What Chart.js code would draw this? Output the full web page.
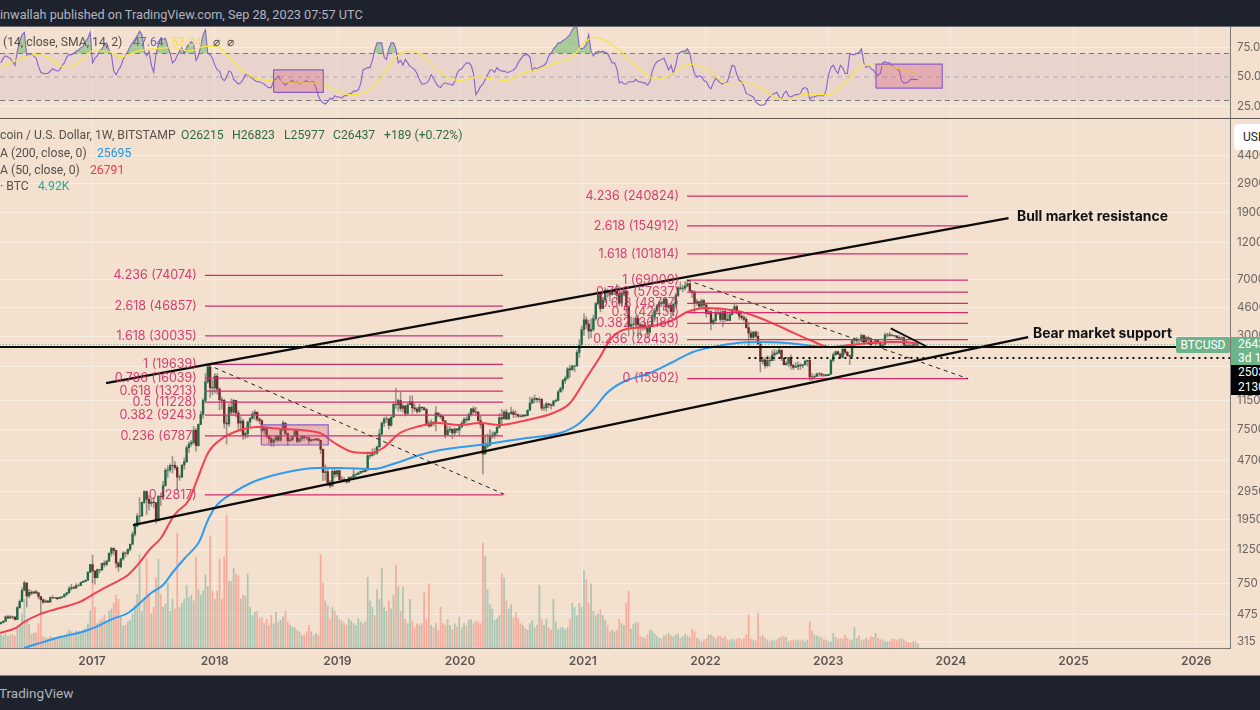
<!DOCTYPE html>
<html><head><meta charset="utf-8">
<script src="https://cdn.jsdelivr.net/npm/chart.js@4"></script>
<style>
html,body{margin:0;padding:0;background:#1e222d;width:1260px;height:710px;overflow:hidden;font-family:Roboto,Inter,sans-serif}
#wrap{position:absolute;left:0;top:27px;width:1260px;height:648px;background:#f3e0cf}
#c{position:absolute;left:0;top:0}
.t{position:absolute;white-space:pre;font-size:12.2px;line-height:16px;color:#55504c}
.hd{color:#b2b5be;font-size:12.7px}
.tag{position:absolute;color:#fff;font-size:12px;white-space:pre;overflow:hidden}
</style></head><body>
<div id="wrap"><canvas id="c" width="1260" height="648" style="width:1260px;height:648px"></canvas></div>
<div style="position:absolute;left:0;top:26px;width:1260px;height:1px;background:#6b6b70"></div>
<div style="position:absolute;left:0;top:675px;width:1260px;height:1px;background:#8a8580"></div>
<div class="t hd" style="left:0;top:7px">inwallah published on TradingView.com, Sep 28, 2023 07:57 UTC</div>
<div class="t hd" style="left:-1px;top:685px;font-size:13.5px">TradingView</div>
<div class="t" style="left:3px;top:34px">(14, close, SMA, 14, 2)</div>
<div class="t" style="left:133px;top:34px;color:#7e57c2">47.64</div>
<div class="t" style="left:171px;top:34px;color:#f5e042">53.04</div>
<div class="t" style="left:213px;top:34px">⌀</div>
<div class="t" style="left:227px;top:34px">⌀</div>
<div class="t" style="left:0;top:127px">coin / U.S. Dollar, 1W, BITSTAMP</div>
<div class="t" style="left:181px;top:127px;color:#2f6b49">O26215</div>
<div class="t" style="left:232px;top:127px;color:#2f6b49">H26823</div>
<div class="t" style="left:284px;top:127px;color:#2f6b49">L25977</div>
<div class="t" style="left:333px;top:127px;color:#2f6b49">C26437</div>
<div class="t" style="left:384px;top:127px;color:#2f6b49">+189 (+0.72%)</div>
<div class="t" style="left:0;top:145px">A (200, close, 0)</div>
<div class="t" style="left:97px;top:145px;color:#2196f3">25695</div>
<div class="t" style="left:0;top:162px">A (50, close, 0)</div>
<div class="t" style="left:90px;top:162px;color:#f23645">26791</div>
<div class="t" style="left:0;top:178px">· BTC</div>
<div class="t" style="left:38px;top:178px;color:#26a69a">4.92K</div>
<div class="tag" style="left:1234px;top:124px;width:40px;height:26px;background:#fff;border-radius:4px;color:#222;line-height:26px;padding-left:9px;box-sizing:border-box">USD</div>
<div class="tag" style="left:1176px;top:337px;width:54px;height:16px;background:#6db48c;border-radius:2px;line-height:16px;text-align:center">BTCUSD</div>
<div class="tag" style="left:1231px;top:337px;width:29px;height:28px;background:#6db48c;line-height:14px;padding-left:7px;box-sizing:border-box">26437
3d 1h</div>
<div class="tag" style="left:1231px;top:365px;width:29px;height:30px;background:#000;line-height:14.5px;padding-left:7px;box-sizing:border-box">25030
21300</div>
<script>
const FIRST_WEEK=2016.257, WEEK=7/365.25;
const yearTicks=[2017,2018,2019,2020,2021,2022,2023,2024,2025,2026];
const priceTicks=[440000,290000,190000,120000,70000,46000,30000,19000,11500,7500,4700,2950,1950,1250,750,475,315];
const rsiTicks=[75,50,25];

const closes2016=[420,428,458,450,458,457,440,525,575,680,760,625,660,650,665,655,620,590,570,580,570,610,607,610,600,612,617,640,655,698,710,703,730,730,765,775,790,890,998];
const highs2016=[425,432,465,470,468,464,458,535,590,705,780,700,690,680,670,680,660,620,600,590,585,615,630,612,612,618,622,645,660,720,745,720,752,745,772,785,795,900,1000];
const lows2016=[415,418,426,445,447,445,435,440,520,575,675,530,610,635,650,645,600,480,560,565,565,570,600,600,590,600,605,615,630,650,680,695,700,720,730,762,770,788,885];
const vol2016=[16,15,17,14,16,17,15,27,28,42,60,34,29,17,18,19,30,40,14,13,12,14,13,12,11,14,13,15,18,22,20,17,21,20,17,22,24,30,46];

const closes2017=[905,820,925,920,1015,1000,1050,1180,1270,1230,1020,965,1085,1185,1180,1250,1350,1570,1770,2050,2060,2520,2960,2640,2480,2530,2510,1920,2750,2730,3230,4060,4080,4350,4380,4230,3670,3680,4390,4610,5690,6010,6150,7380,5870,8040,9330,11500,15200,18950,13900,13850];
const highs2017=[1150,915,935,930,1025,1055,1060,1190,1290,1280,1240,1040,1100,1210,1205,1260,1355,1625,1850,2130,2700,2530,3000,2980,2790,2620,2700,2400,2800,2900,3450,4180,4350,4480,4980,4620,4350,3800,4400,4900,5850,6200,6350,7800,7600,8100,9780,11800,17200,19639,16800,15500];
const lows2017=[760,745,815,880,910,960,980,1040,1130,1150,950,900,950,1060,1120,1150,1220,1340,1520,1750,1850,2040,2480,2100,2250,2380,2330,1850,1900,2400,2650,3200,3650,3950,3900,4100,3000,3500,3620,4120,4550,5300,5800,6000,5400,5800,8000,8800,11100,14800,12000,12500];
const vol2017=[84,50,30,34,36,41,32,45,48,55,65,60,38,27,28,32,34,42,52,66,115,45,62,110,64,42,50,86,109,66,50,54,80,45,60,48,141,50,55,60,77,62,65,58,112,72,65,70,90,75,138,70];

const closes2018=[16500,13600,11600,11500,8200,8100,10400,9650,11500,9550,8200,8450,6830,7030,8350,8800,9410,9650,8700,8520,7350,7700,6770,6500,6150,6380,6750,6360,7400,8220,7030,6300,6390,6710,7300,6250,6500,6700,6620,6590,6300,6410,6380,6480,6350,5550,3930,3980,3370,3220,4000,3830];
const highs2018=[17150,17150,13900,12100,11700,9100,10950,11750,11700,11500,9900,9000,8700,7200,8400,8950,9750,9990,9650,8880,8600,7800,7750,6850,6700,6550,6800,6800,7500,8480,8250,7100,6600,6750,7400,7350,6600,6800,6800,6650,6640,6500,6500,6540,6480,6350,5600,4400,4250,3500,4150,4150];
const lows2018=[12800,12600,10000,10100,7600,6000,7800,9300,9300,8950,7300,7250,6430,6500,6600,7800,8700,8600,8400,8100,7200,7000,6600,6000,5800,5800,6250,6200,6250,7300,6900,5880,6250,6300,6700,6100,6150,6300,6350,6400,6000,6250,6300,6350,6300,5200,3480,3500,3230,3120,3200,3650];
const vol2018=[60,70,109,60,112,163,82,82,98,91,89,60,65,64,91,50,40,44,45,36,38,30,35,28,40,30,44,32,34,38,45,32,28,26,25,22,20,15,16,20,28,20,15,18,16,115,80,58,52,35,50,45];

const closes2019=[4040,3540,3540,3530,3410,3650,3670,3800,3810,3900,4000,3980,4100,5040,5070,5300,5250,5750,6980,8200,8730,8730,7930,8960,10850,10800,11470,10200,10600,9470,10800,11280,10300,10130,9760,10400,10300,10030,8050,7870,8280,8220,9550,9200,9030,8500,6900,7390,7500,7090,7510,7390];
const highs2019=[4080,4080,3700,3650,3550,3680,3700,4190,3880,3950,4020,4080,4150,5350,5350,5600,5650,5830,7500,8350,8900,9050,8800,9000,11200,13800,11700,13100,10900,10650,11000,12300,12300,10900,10380,10900,10400,10400,10200,8500,8600,8400,10500,9500,9400,9100,8100,7850,7800,7500,7650,7550];
const lows2019=[3700,3500,3480,3440,3350,3390,3580,3660,3670,3830,3880,3900,3960,4030,4840,5000,5100,5150,5740,6900,7800,8300,7500,7850,8950,10200,9800,9800,9650,9100,9350,10900,9500,9800,9470,9600,9950,9900,7900,7700,7780,7900,7300,9000,8750,8350,6550,7200,7150,6500,6900,7100];
const vol2019=[40,35,33,30,28,36,33,30,28,36,32,30,32,87,58,50,40,72,60,98,50,45,58,48,65,102,75,45,75,35,30,60,33,25,30,28,30,68,35,79,28,25,30,22,50,30,28,35,28,22,30,26];

const closes2020=[7760,8190,8700,8600,9340,10150,9700,9660,8520,8040,5170,5810,5880,6770,6860,7120,7700,8890,8730,9670,8720,9450,9670,9330,9300,9120,9070,9240,9170,9930,11050,11680,11850,11650,11700,10250,10320,10930,10780,10680,11380,11500,13030,13750,15480,15970,18400,18170,19150,19270,23500,26250];
const highs2020=[7800,8470,8900,8980,9570,10200,10500,10370,9750,9180,8170,6900,6980,7450,7200,7220,7780,9450,10050,9900,10080,9580,10400,10000,9800,9400,9300,9350,9300,10000,12100,12050,12470,11900,12000,11800,10800,11180,10980,10950,11500,11720,13350,14000,15800,16500,18800,19500,19450,19400,24300,28400];
const lows2020=[6850,7650,8100,8300,8500,9100,9470,9300,8450,7600,3850,5300,5670,5900,6500,6550,6800,7600,8100,8900,8650,8650,9350,8900,8950,8900,8950,9000,9000,9120,10500,10950,11120,11150,11100,9900,9900,9800,10300,10100,10500,11200,11400,13100,13250,14800,15800,16200,18000,17600,19000,21800];
const vol2020=[38,25,30,27,34,35,30,33,32,30,129,113,72,53,48,34,36,40,91,86,58,48,53,37,44,36,30,28,24,22,30,34,25,28,77,35,28,35,25,22,60,32,22,25,25,22,25,35,55,50,40,55];

const closes2021=[33000,38200,35800,32300,33100,38900,48700,57400,45200,51200,59100,57400,55800,58200,59800,56200,49000,56600,58200,46400,34700,35600,35800,39000,35600,34500,35300,34200,31800,35400,39900,43800,47000,49300,48800,51800,46000,47200,43200,48200,54900,61500,60900,61300,63300,65500,58700,57300,49400,50100,46700,50800];
const highs2021=[34800,41900,40000,38000,38700,40900,49700,58300,57500,52600,61700,60500,58300,59800,61200,64800,57500,58400,59500,59500,45800,39900,39400,40100,41200,36600,36000,36900,34700,35400,42600,45300,48100,50500,50500,52900,52900,48800,48400,49200,56500,62900,67000,63700,67600,69000,66300,59000,59100,51900,49500,52100];
const lows2021=[27700,30300,33400,28800,29300,32300,38000,47500,43000,44900,49300,53500,50400,55000,55500,50900,47000,47500,54500,42000,30000,33400,31000,34700,28800,30200,32600,33000,29300,31000,37300,37300,42800,45900,46400,47000,42900,44800,39600,40700,47100,53900,59500,58000,59400,62300,57800,53300,42000,47300,45500,45600];
const vol2021=[50,95,84,55,79,45,40,42,47,40,34,28,20,22,20,22,35,30,28,55,70,23,29,31,31,14,13,12,16,22,21,17,14,12,11,15,16,18,15,14,16,17,12,14,17,15,13,23,20,12,10,8];

const closes2022=[47700,41900,43100,36300,37900,42400,42100,38400,43200,38400,37800,41300,44500,46400,42200,40400,39450,38500,34000,31300,29450,31800,29900,26600,20550,21000,19300,20850,20800,22600,23300,23200,24300,21500,19550,20000,21800,19400,18800,19050,19440,19260,19570,20630,20900,16300,16280,16450,17100,17100,16750,16840];
const highs2022=[51900,47900,44500,43500,38900,45500,45800,44800,44200,45400,42400,42400,45000,48200,47500,42900,42900,40800,39900,36700,32400,32200,32400,31900,27100,21900,21800,22400,22000,24200,24600,24200,25200,24400,21800,20600,21900,22700,19700,20200,20400,19900,19700,21000,21000,21500,17200,16800,17300,17400,17300,17000];
const lows2022=[45700,39700,41300,32900,35600,36800,41400,37200,34400,37200,37600,37700,41000,44200,41900,38500,38200,37500,33700,25400,28800,28600,29300,26800,17600,19800,18600,18900,19100,20700,20800,22700,23500,20800,19500,19500,19000,18300,18200,18900,18200,18200,18700,19500,19200,15500,15500,15800,16700,16500,16350,16400];
const vol2022=[10,12,16,16,14,11,15,14,12,14,10,9,11,10,11,12,10,12,16,41,11,10,9,43,14,15,12,10,8,10,9,10,12,14,14,13,8,9,10,9,10,9,10,8,10,32,21,16,15,13,13,10];

const closes2023=[16620,16950,20870,22700,23750,22930,21860,24640,23560,22430,22140,27970,27980,28460,28320,30300,27590,29230,28900,26920,26850,28070,27120,25840,26340,30460,30620,30290,30250,30080,29280,29040,29280,26190,26010,25970,25830,26530,26250,26437];
const highs2023=[16800,17100,21300,23300,24000,23950,23300,25250,25100,23900,22600,28450,29200,29400,28800,31000,30500,30000,29800,29100,27700,28400,28450,27400,26800,31400,31300,31800,31000,30300,30000,30200,29700,29700,28150,26900,26850,27400,27200,26823];
const lows2023=[16500,16650,17300,20400,22500,22700,21450,21550,22900,22200,19600,21900,26600,26900,27200,28200,27150,27000,27350,25800,26350,26000,26500,25400,24800,26200,29500,29700,29900,29600,29000,28600,29000,25200,25350,25350,25350,25600,26000,25977];
const vol2023=[10,8,8,18,13,11,12,11,16,12,10,10,25,12,15,10,10,12,10,14,13,18,12,10,10,8,8,8,11,11,9,11,11,10,8,7,6,8,8,4.92];

const rsiValues=[
62,66,68,67,66,63,60,72,80,86,88,68,69,69,68,66,59,54,53,53,53,55,57,56,55,56,60,62,67,69,69,70,72,73,75,76,80,83,88,
62,66,68,72,74,77,79,73,69,55,52,56,59,65,68,72,76,79,82,85,89,86,72,68,72,60,54,70,78,82,82,83,76,70,62,64,68,72,75,70,75,78,80,78,64,68,76,86,90,70,69,66,
60,56,55,49,47,50,55,54,48,46,44,45,48,52,52,50,49,47,46,46,45,44,42,41,41,47,48,51,47,45,43,45,46,47,45,46,44,45,46,47,45,46,46,41,34,30,28,27,29,32,31,34,
33,33,32,34,34,36,36,38,38,39,44,56,57,58,58,64,73,79,79,79,67,65,74,79,79,74,62,64,60,65,62,59,58,56,53,48,44,44,45,47,52,49,45,42,41,44,45,44,44,43,46,53,
56,57,60,62,62,60,53,35,38,42,44,48,52,56,56,54,58,56,55,55,54,54,55,56,58,62,65,68,69,69,67,55,58,57,58,59,60,62,68,70,74,76,79,79,81,82,84,86,90,93,92,75,
74,75,78,86,72,68,71,72,71,72,71,70,66,62,62,57,45,46,44,44,46,46,46,48,46,46,45,45,43,46,55,60,63,64,65,66,61,56,60,53,60,70,71,72,72,74,70,60,53,50,51,50,
47,46,42,40,45,49,47,45,44,45,46,53,60,59,52,47,46,42,36,35,34,33,29,27,26,26,27,31,33,35,36,37,33,31,36,38,34,33,34,35,35,36,40,41,40,31,33,33,34,34,34,34,
39,52,58,60,56,53,60,58,53,53,70,69,69,70,71,74,62,58,60,57,56,53,51,53,62,63,62,62,59,58,57,56,47,45,45,46,48,48,48,47.64];
const rsiSmaWeeks=[0,5,10,15,21,26,29,34,39,45,51,58,65,74,80,87,92,96,101,106,111,120,126,135,142,149,154,159,164,169,174,180,185,190,195,203,215,222,229,236,243,248,252,258,263,268,273,278,285,293,300,309,316,323,329,335,341,352,360,367,374,382,390];
const rsiSma=[58,63,67,69,66,59,58,64,72,72,67,72,74,75,72,76,76,69,59,51,48,46,45,45,39,35,36,43,56,69,72,67,57,50,47,50,47,53,57,62,67,79,84,80,73,63,55,48,52,61,57,44,45,41,33,31,35,35,47,60,60,57,53.04];

const ma50Years=[2016.25,2016.38,2016.446,2016.576,2016.74,2016.9,2017,2017.098,2017.196,2017.293,2017.391,2017.465,2017.562,2017.66,2017.693,2017.79,2017.856,2017.945,2018.043,2018.206,2018.345,2018.557,2018.858,2018.964,2019.127,2019.266,2019.372,2019.51,2019.673,2019.812,2020,2020.162,2020.325,2020.545,2020.757,2020.896,2021.034,2021.14,2021.222,2021.328,2021.523,2021.735,2021.85,2022.012,2022.257,2022.444,2022.632,2022.852,2023.015,2023.178,2023.504,2023.626,2023.732];
const ma50=[360,388,424,477,522,572,634,703,769,853,1035,1238,1481,2026,2182,2609,3515,5254,6376,7396,7739,7510,7079,6190,5333,5254,5660,7079,7857,8216,7970,8216,7970,8592,9530,11070,16300,21950,28280,32810,34310,38090,42900,45500,43550,39250,33830,28280,25480,26240,27450,27450,26791];
const ma200Years=[2016.446,2016.576,2016.74,2016.918,2017.033,2017.163,2017.293,2017.391,2017.481,2017.579,2017.66,2017.758,2017.856,2017.88,2017.945,2018.019,2018.149,2018.312,2018.557,2018.834,2019.02,2019.29,2019.453,2019.673,2019.836,2020.219,2020.545,2020.814,2020.953,2021.083,2021.197,2021.328,2021.548,2021.735,2021.898,2022.06,2022.257,2022.444,2022.664,2023.015,2023.34,2023.732];
const ma200=[288,310,339,365,394,443,485,563,653,736,893,1100,1335,1438,1937,2423,2896,3412,3900,4202,4202,4140,4460,5100,5495,6007,6568,7078,7970,9970,12850,15130,17300,20380,23650,25480,27040,27450,27040,25480,25480,25695];

const fibLevelsA=["0 (2817)","0.236 (6787)","0.382 (9243)","0.5 (11228)","0.618 (13213)","0.786 (16039)","1 (19639)","1.618 (30035)","2.618 (46857)","4.236 (74074)"];
const fibPricesA=[2817,6787,9243,11228,13213,16039,19639,30035,46857,74074];
const fibLevelsB=["0 (15902)","0.236 (28433)","0.382 (36186)","0.5 (42451)","0.618 (48717)","0.786 (57637)","1 (69000)","1.618 (101814)","2.618 (154912)","4.236 (240824)"];
const fibPricesB=[15902,28433,36186,42451,48717,57637,69000,101814,154912,240824];
const fibSpanA=[2017.92,2020.35];
const fibSpanB=[2021.85,2024.14];
const bullLine=[[2017.114,14900],[2024.47,174000]];
const bearLine=[[2017.334,1798],[2024.63,29570]];
const levelLine=[[2016.25,25480],[2025.84,25480]];
const dottedLevel=[[2022.35,21630],[2026.275,21630]];
const lastPriceLine=[[2016.25,26437],[2026.275,26437]];
const fallA=[[2017.94,19639],[2020.37,2817]];
const fallB=[[2021.85,69000],[2024.14,15902]];
const wedgeLine=[[2023.51,33600],[2023.81,25480]];
const priceBox=[2018.38,2018.925,5920,7990];
const rsiBoxA=[2018.48,2018.885,37,56];
const rsiBoxB=[2023.39,2023.93,40.6,61];
const notes=[["Bull market resistance",2024.539,176500],["Bear market support",2024.669,30930]];

const closes=[...closes2016,...closes2017,...closes2018,...closes2019,...closes2020,...closes2021,...closes2022,...closes2023];
const highs=[...highs2016,...highs2017,...highs2018,...highs2019,...highs2020,...highs2021,...highs2022,...highs2023];
const lows=[...lows2016,...lows2017,...lows2018,...lows2019,...lows2020,...lows2021,...lows2022,...lows2023];
const volumes=[...vol2016,...vol2017,...vol2018,...vol2019,...vol2020,...vol2021,...vol2022,...vol2023];

const X0=2016.25,X1=2026.275;
const wk=i=>FIRST_WEEK+i*WEEK;
const opens=closes.map((c,i)=>i?closes[i-1]:412);
const up=closes.map((c,i)=>c>=opens[i]);
const seg=(pts,color,width,dash,order,axis)=>({type:'line',data:pts.map(p=>({x:p[0],y:p[1]})),borderColor:color,borderWidth:width,borderDash:dash||[],pointRadius:0,order:order,yAxisID:axis||'y',fill:false,tension:0});
const boxSets=(b,axis)=>[
 {type:'line',data:[{x:b[0],y:b[3]},{x:b[1],y:b[3]}],borderWidth:0,pointRadius:0,yAxisID:axis,order:3,fill:{target:{value:b[2]},above:'rgba(214,72,110,0.28)',below:'rgba(214,72,110,0.28)'}},
 seg([[b[0],b[2]],[b[1],b[2]],[b[1],b[3]],[b[0],b[3]],[b[0],b[2]]],'#8a5cc8',1.2,[],2,axis)
];
const fibSets=(prices,span)=>prices.map(p=>seg([[span[0],p],[span[1],p]],'#d62c6c',1.25,[],4));
const datasets=[
 {type:'line',data:[{x:X0,y:70},{x:X1,y:70}],borderWidth:0,pointRadius:0,yAxisID:'rsi',order:20,fill:{target:{value:30},above:'rgba(126,87,194,0.09)',below:'rgba(126,87,194,0.09)'}},
 seg([[X0,70],[X1,70]],'#77777f',1,[5,4],19,'rsi'),
 seg([[X0,50],[X1,50]],'#a9a5ab',1,[5,4],19,'rsi'),
 seg([[X0,30],[X1,30]],'#77777f',1,[5,4],19,'rsi'),
 ...boxSets(rsiBoxA,'rsi'),...boxSets(rsiBoxB,'rsi'),
 {type:'line',data:rsiValues.map((v,i)=>({x:wk(i),y:v})),borderColor:'#8763cc',borderWidth:1.1,pointRadius:0,yAxisID:'rsi',order:6,fill:{target:{value:70},above:'rgba(76,175,80,0.45)',below:'rgba(0,0,0,0)'}},
 {type:'line',data:rsiSma.map((v,i)=>({x:wk(rsiSmaWeeks[i]),y:v})),borderColor:'#f7e449',borderWidth:1.3,pointRadius:0,yAxisID:'rsi',order:5,cubicInterpolationMode:'monotone'},
 {type:'bar',label:'Volume',data:volumes.map((v,i)=>({x:wk(i),y:v})),yAxisID:'vol',barThickness:1.05,grouped:false,backgroundColor:up.map(u=>u?'rgba(70,160,135,0.42)':'rgba(255,95,85,0.42)'),order:30},
 {type:'bar',label:'Wick',data:closes.map((c,i)=>({x:wk(i),y:[lows[i],highs[i]]})),yAxisID:'y',barThickness:0.9,grouped:false,backgroundColor:'rgba(95,90,88,0.6)',order:12},
 {type:'bar',label:'Body',data:closes.map((c,i)=>({x:wk(i),y:[Math.min(c,opens[i]),Math.max(c,opens[i])]})),yAxisID:'y',barThickness:1.7,grouped:false,backgroundColor:up.map(u=>u?'#1f6a45':'#6e2a28'),order:11},
 ...boxSets(priceBox,'y'),
 {type:'line',label:'MA 50',data:ma50.map((v,i)=>({x:ma50Years[i],y:v})),borderColor:'#f5404f',borderWidth:2,pointRadius:0,yAxisID:'y',order:8,cubicInterpolationMode:'monotone'},
 {type:'line',label:'MA 200',data:ma200.map((v,i)=>({x:ma200Years[i],y:v})),borderColor:'#2f9bf0',borderWidth:2,pointRadius:0,yAxisID:'y',order:7,cubicInterpolationMode:'monotone'},
 ...fibSets(fibPricesA,fibSpanA),...fibSets(fibPricesB,fibSpanB),
 seg(lastPriceLine,'rgba(90,170,125,0.8)',1,[1,2],9),
 seg(bullLine,'#0b0b0b',2.3,[],1),
 seg(bearLine,'#0b0b0b',2.3,[],1),
 seg(levelLine,'#0b0b0b',2,[],1),
 seg(dottedLevel,'#0b0b0b',2,[2,4],1),
 seg(fallA,'#222',1,[4,4],2),
 seg(fallB,'#222',1,[4,4],2),
 seg(wedgeLine,'#0b0b0b',1.8,[],1)
];
const labelPlugin={id:'labels',
 beforeDatasetsDraw(ch){const c=ch.ctx,r=ch.scales.rsi;c.save();c.strokeStyle='#5d5a58';c.lineWidth=1;c.beginPath();c.moveTo(0,r.bottom-.5);c.lineTo(ch.width,r.bottom-.5);c.stroke();c.restore();},
 afterDatasetsDraw(ch){
  const c=ch.ctx,x=ch.scales.x,y=ch.scales.y;c.save();
  c.textBaseline='middle';c.textAlign='right';c.font='12.5px Inter,Roboto,sans-serif';c.fillStyle='rgba(206,40,100,0.88)';
  fibLevelsA.forEach((t,i)=>c.fillText(t,x.getPixelForValue(fibSpanA[0])-8,y.getPixelForValue(fibPricesA[i])));
  fibLevelsB.forEach((t,i)=>c.fillText(t,x.getPixelForValue(fibSpanB[0])-8,y.getPixelForValue(fibPricesB[i])));
  c.textAlign='left';c.font='bold 13.9px Inter,Roboto,sans-serif';c.fillStyle='#111';
  notes.forEach(n=>c.fillText(n[0],x.getPixelForValue(n[1]),y.getPixelForValue(n[2])));
  c.restore();
 }};
const flat=s=>{s.paddingTop=0;s.paddingBottom=0;s.paddingLeft=0;s.paddingRight=0;};
new Chart(document.getElementById('c'),{
 data:{datasets},
 plugins:[labelPlugin],
 options:{animation:false,responsive:false,devicePixelRatio:1,events:[],
  layout:{padding:0,autoPadding:false},
  plugins:{legend:{display:false},tooltip:{enabled:false},title:{display:false}},
  scales:{
   x:{type:'linear',position:'bottom',min:X0,max:X1,offset:false,
    afterBuildTicks:s=>{s.ticks=yearTicks.map(v=>({value:v}));},
    afterFit:s=>{s.height=27;flat(s);},
    grid:{color:'rgba(255,255,255,0.38)',drawTicks:false,offset:false},
    border:{color:'#7e7a76',width:1},
    ticks:{autoSkip:false,maxRotation:0,padding:6,color:'#5c5652',font:{family:'Inter,Roboto,sans-serif',size:12,weight:'600'},callback:v=>String(v)}},
   rsi:{type:'linear',position:'right',stack:'panes',stackWeight:92,weight:1,min:14.26,max:92.55,
    afterBuildTicks:s=>{s.ticks=rsiTicks.map(v=>({value:v}));},
    afterFit:s=>{s.width=30;flat(s);},
    grid:{color:'rgba(255,255,255,0.38)',drawTicks:false},
    border:{color:'#7e7a76',width:1},
    ticks:{autoSkip:false,padding:7,color:'#6b6560',font:{family:'Inter,Roboto,sans-serif',size:11.5},callback:v=>v.toFixed(1)}},
   y:{type:'logarithmic',position:'right',stack:'panes',stackWeight:529,weight:2,min:287.9,max:760300,
    afterBuildTicks:s=>{s.ticks=priceTicks.map(v=>({value:v}));},
    afterFit:s=>{s.width=30;flat(s);},
    grid:{color:'rgba(255,255,255,0.38)',drawTicks:false},
    border:{color:'#7e7a76',width:1},
    ticks:{autoSkip:false,padding:7,color:'#6b6560',font:{family:'Inter,Roboto,sans-serif',size:11.5},callback:v=>String(v)}},
   vol:{type:'linear',position:'right',display:false,min:0,max:764}
  }}
});
</script>
</body></html>
